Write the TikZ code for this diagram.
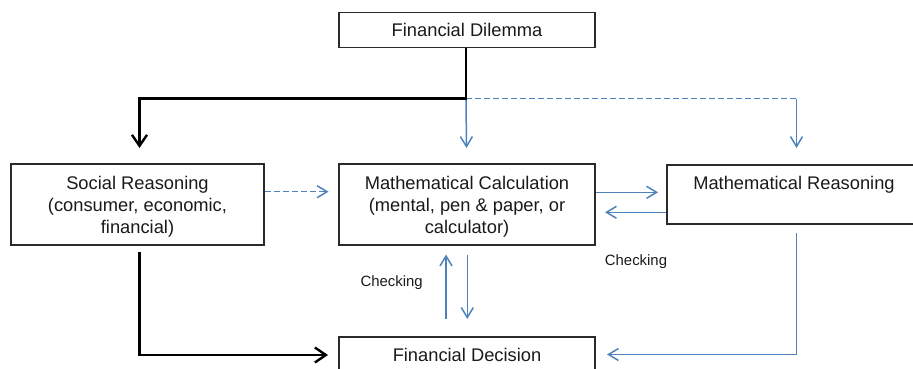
\documentclass[tikz,border=0pt]{standalone}
\usepackage{fontspec}
\setmainfont{Liberation Sans}
\usetikzlibrary{arrows.meta}
\definecolor{lineblue}{HTML}{4F81BD}
\definecolor{boxgray}{HTML}{2A2A2A}
\definecolor{textgray}{HTML}{1A1A1A}
\begin{document}
\begin{tikzpicture}[x=1pt,y=-1pt,
  box/.style={draw=boxgray, line width=1.5pt, inner sep=0pt, fill=white},
  txt/.style={align=center, inner sep=0pt, font=\fontsize{18.3}{22}\selectfont, text=textgray},
  small/.style={inner sep=0pt, font=\fontsize{14.9}{18}\selectfont, text=textgray},
  blk/.style={line width=2.4pt, black, -{Straight Barb[length=11pt,width=15pt]}},
  blu/.style={line width=1.5pt, lineblue, -{Straight Barb[length=10pt,width=12pt]}},
  bluedash/.style={line width=1.5pt, lineblue, dash pattern=on 6pt off 3pt},
]
\useasboundingbox (0,0) rectangle (913,369);
\clip (0,0) rectangle (913,369);

% boxes
\node[box, txt, minimum width=256pt, minimum height=35pt] (dil) at (467,30) {Financial Dilemma};
\node[box, minimum width=253pt, minimum height=81pt] (soc) at (137.5,204.5) {};
\node[box, minimum width=256pt, minimum height=81pt] (calc) at (467,204.5) {};
\node[box, minimum width=254pt, minimum height=59pt] (mr) at (794,194.5) {};
\node[box, txt, minimum width=256pt, minimum height=35pt] (dec) at (467,354.5) {Financial Decision};

% box texts
\node[txt] (socT) at (137.5,206.8) {Social Reasoning\\(consumer, economic,\\financial)};
\node[txt] (calcT) at (467,206.8) {Mathematical Calculation\\(mental, pen \& paper, or\\calculator)};
\node[txt] (mrT) at (794,185.2) {Mathematical Reasoning};

% labels
\node[small] (chk1) at (391.7,282.8) {Checking};
\node[small] (chk2) at (636,262) {Checking};

% coordinates
\coordinate (j) at (466,98.5);
\coordinate (sTip) at (139.5,148);
\coordinate (cTip) at (466.5,148);
\coordinate (rTop) at (796.5,98.5);
\coordinate (rTip) at (796.5,148);
\coordinate (scTip) at (328.5,191.7);
\coordinate (cmTip) at (658,192.3);
\coordinate (mcTip) at (605,212.3);
\coordinate (upS) at (446,319);
\coordinate (upT) at (446,254.5);
\coordinate (dnS) at (467.3,254.5);
\coordinate (dnT) at (467.3,319);
\coordinate (mrS) at (796.5,232.7);
\coordinate (mrC) at (796.5,354.5);
\coordinate (mrTip) at (607,354.5);
\coordinate (soS) at (139.5,252);
\coordinate (soTip) at (328,355);

% blue connectors
\draw[blu] (j) -- (cTip);
\draw[bluedash] (j) -- (rTop);
\draw[blu] (rTop) -- (rTip);
\draw[bluedash, -{Straight Barb[length=10pt,width=12pt]}] (soc.east |- scTip) -- (scTip);
\draw[blu] (calc.east |- cmTip) -- (cmTip);
\draw[blu] (mr.west |- mcTip) -- (mcTip);
\draw[blu] (upS) -- (upT);
\draw[blu] (dnS) -- (dnT);
\draw[blu] (mrS) -- (mrC) -- (mrTip);

% black connectors
\draw[blk] (dil.south -| j) -- (j) -| (sTip);
\draw[blk] (soS) |- (soTip);
\end{tikzpicture}
\end{document}
